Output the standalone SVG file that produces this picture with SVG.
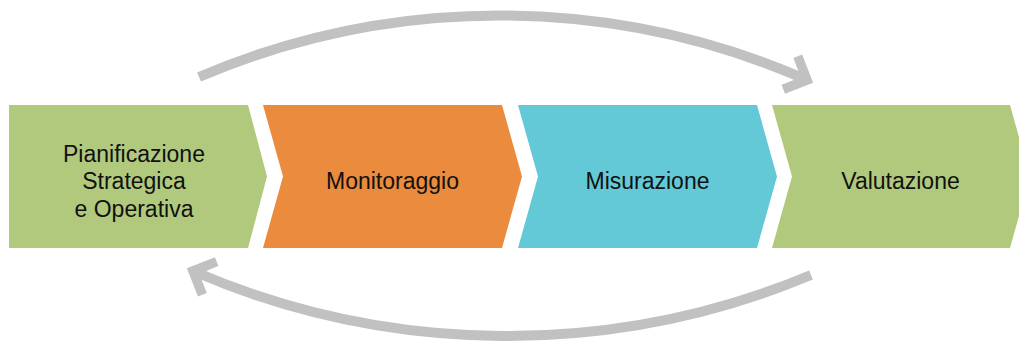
<svg xmlns="http://www.w3.org/2000/svg" width="1019" height="347" viewBox="0 0 1019 347">
<style>
.lbl{font-family:"Liberation Sans",Arial,sans-serif;font-size:23px;fill:#111;text-anchor:middle}
.arc{fill:none;stroke:#c1c1c1;stroke-width:10}
</style>
<defs>
<marker id="ah" markerUnits="userSpaceOnUse" markerWidth="60" markerHeight="60" refX="30" refY="30" orient="auto" viewBox="0 0 60 60" overflow="visible">
<polyline points="12,12 30,30 12,48" fill="none" stroke="#c1c1c1" stroke-width="9.5" stroke-linejoin="miter" stroke-miterlimit="10"/>
</marker>
</defs>
<rect width="1019" height="347" fill="#fff"/>
<g id="connectors">
<path class="arc" d="M199,77 A765,765 0 0 1 807,80" marker-end="url(#ah)"/>
<path class="arc" d="M811,275 A790,790 0 0 1 193,271" marker-end="url(#ah)"/>
</g>
<g id="node-pianificazione">
<polygon points="9,105 248,105 267,176.5 248,248 9,248" fill="#b0c97d"/>
<text class="lbl" x="134" y="161.7">Pianificazione</text>
<text class="lbl" x="134" y="189.3">Strategica</text>
<text class="lbl" x="134" y="216.7">e Operativa</text>
</g>
<g id="node-monitoraggio">
<polygon points="263,105 502,105 522,176.5 502,248 263,248 283,176.5" fill="#ea8b3e"/>
<text class="lbl" x="392.5" y="188.5">Monitoraggio</text>
</g>
<g id="node-misurazione">
<polygon points="518,105 757,105 777,176.5 757,248 518,248 538,176.5" fill="#64c9d6"/>
<text class="lbl" x="647.5" y="188.5">Misurazione</text>
</g>
<g id="node-valutazione">
<polygon points="772,105 1010,105 1030,176.5 1010,248 772,248 792,176.5" fill="#b0c97d"/>
<text class="lbl" x="900.5" y="188.5">Valutazione</text>
</g>
</svg>
